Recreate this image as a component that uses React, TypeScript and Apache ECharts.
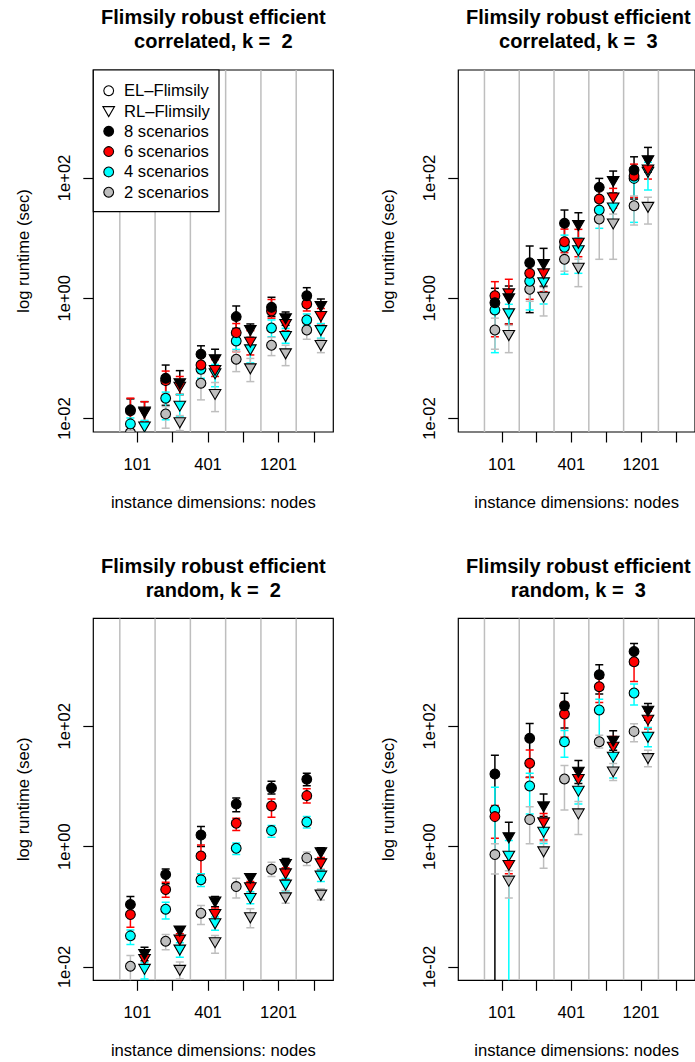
import React, { useEffect, useRef } from 'react';
import * as echarts from 'echarts';

const FONT = '"Liberation Sans", Arial, Helvetica, sans-serif';

// ---- axes / categories ----
const nodeTicks = [1, 2, 3, 4, 5, 6];
const labelledTicks = [1, 3, 5];
const labelledNodes = ['101', '401', '1201'];
const separators = [0.5, 1.5, 2.5, 3.5, 4.5, 5.5];
const yTicks = [-2, 0, 2]; // log10(seconds)
const Y_MIN = -2.223;
const Y_MAX = 3.795;
const X_MIN = -0.252;
const X_MAX = 6.552;
const EL_OFFSET = -0.2;
const RL_OFFSET = 0.2;

// ---- data: per group [mean, lower, upper] of runtime, log10(sec); null lower = below zero ----
// correlated, k = 2
const corrK2_s8_EL = [[-1.855, -2.05, -1.673], [-1.33, -1.78, -1.11], [-0.93, -1.1, -0.79], [-0.305, -0.5, -0.128], [-0.15, -0.3, 0.017], [0.043, -0.1, 0.176]];
const corrK2_s8_RL = [[-1.883, -2.05, -1.718], [-1.412, -1.6, -1.203], [-1.013, -1.2, -0.847], [-0.527, -0.65, -0.427], [-0.332, -0.45, -0.228], [-0.128, -0.25, -0.012]];
const corrK2_s6_EL = [[-1.87, -2.05, -1.66], [-1.369, -1.6, -1.21], [-1.108, -1.22, -0.95], [-0.571, -0.887, -0.42], [-0.211, -0.33, -0.02], [-0.095, -0.211, 0.03]];
const corrK2_s6_RL = [[-1.9, -2.05, -1.72], [-1.468, -1.6, -1.3], [-1.191, -1.3, -1.02], [-0.721, -0.942, -0.538], [-0.427, -0.538, -0.3], [-0.294, -0.427, -0.17]];
const corrK2_s4_EL = [[-2.088, -2.2, -1.99], [-1.661, -2.02, -1.56], [-1.18, -1.33, -1.05], [-0.709, -0.85, -0.58], [-0.493, -0.64, -0.36], [-0.36, -0.45, -0.261]];
const corrK2_s4_RL = [[-2.13, -2.3, -2.03], [-1.784, -1.97, -1.6], [-1.246, -1.47, -1.1], [-0.847, -1.075, -0.7], [-0.626, -0.748, -0.5], [-0.527, -0.664, -0.42]];
const corrK2_s2_EL = [[-2.23, -2.4, -2.1], [-1.922, -2.16, -1.8], [-1.412, -1.689, -1.25], [-1.013, -1.219, -0.88], [-0.781, -0.953, -0.65], [-0.527, -0.681, -0.42]];
const corrK2_s2_RL = [[-2.4, -2.6, -2.25], [-2.06, -2.2, -1.95], [-1.59, -1.884, -1.4], [-1.163, -1.385, -1.0], [-0.914, -1.12, -0.78], [-0.776, -0.904, -0.68]];

// correlated, k = 3
const corrK3_s8_EL = [[-0.073, -0.55, 0.166], [0.591, -0.239, 0.869], [1.246, 0.8, 1.467], [1.844, 1.6, 1.993], [2.131, 1.65, 2.352]];
const corrK3_s8_RL = [[0.0, -0.427, 0.204], [0.57, 0.2, 0.83], [1.218, 0.95, 1.422], [1.949, 1.75, 2.115], [2.297, 2.1, 2.508]];
const corrK3_s6_EL = [[0.043, -0.64, 0.276], [0.415, -0.017, 0.62], [0.94, 0.758, 1.15], [1.65, 1.45, 1.8], [2.032, 1.678, 2.23]];
const corrK3_s6_RL = [[0.083, -0.43, 0.316], [0.415, 0.11, 0.6], [0.924, 0.691, 1.146], [1.678, 1.5, 1.827], [2.143, 1.982, 2.3]];
const corrK3_s4_EL = [[-0.194, -0.904, -0.05], [0.282, -0.194, 0.45], [0.85, 0.4, 1.05], [1.467, 1.163, 1.62], [1.993, 1.262, 2.17]];
const corrK3_s4_RL = [[-0.249, -0.6, -0.1], [0.266, -0.095, 0.42], [0.8, 0.415, 1.0], [1.512, 1.3, 1.7], [2.103, 1.8, 2.26]];
const corrK3_s2_EL = [[-0.527, -0.847, -0.33], [0.15, -0.05, 0.3], [0.648, 0.45, 0.78], [1.317, 0.648, 1.45], [1.538, 1.218, 1.7]];
const corrK3_s2_RL = [[-0.61, -0.904, -0.45], [0.027, -0.294, 0.18], [0.508, 0.193, 0.65], [1.246, 0.648, 1.4], [1.522, 1.234, 1.68]];

// random, k = 2
const randK2_s8_EL = [[-0.963, -1.1, -0.831], [-0.465, -0.62, -0.371], [0.194, 0.0, 0.332], [0.709, 0.581, 0.809], [0.975, 0.875, 1.085], [1.118, 1.013, 1.218]];
const randK2_s8_RL = [[-1.783, -1.9, -1.672], [-1.395, -1.5, -1.35], [-0.914, -1.0, -0.831], [-0.521, -0.6, -0.45], [-0.288, -0.38, -0.2], [-0.094, -0.2, -0.02]];
const randK2_s6_EL = [[-1.13, -1.34, -1.0], [-0.714, -0.842, -0.593], [-0.155, -0.454, 0.028], [0.388, 0.266, 0.47], [0.676, 0.487, 0.79], [0.847, 0.726, 0.96]];
const randK2_s6_RL = [[-1.866, -2.0, -1.75], [-1.545, -1.65, -1.45], [-1.118, -1.22, -1.02], [-0.675, -0.78, -0.58], [-0.443, -0.55, -0.35], [-0.277, -0.38, -0.18]];
const randK2_s4_EL = [[-1.484, -1.628, -1.385], [-1.041, -1.202, -0.925], [-0.553, -0.664, -0.45], [-0.028, -0.133, 0.06], [0.266, 0.155, 0.35], [0.41, 0.31, 0.5]];
const randK2_s4_RL = [[-2.032, -2.2, -1.93], [-1.711, -1.838, -1.6], [-1.274, -1.39, -1.17], [-0.853, -0.95, -0.75], [-0.631, -0.74, -0.53], [-0.482, -0.58, -0.39]];
const randK2_s2_EL = [[-1.988, -2.4, -1.811], [-1.573, -1.716, -1.46], [-1.107, -1.296, -0.98], [-0.664, -0.853, -0.526], [-0.377, -0.498, -0.26], [-0.188, -0.316, -0.09]];
const randK2_s2_RL = [[-2.4, -2.6, -2.25], [-2.048, -2.2, -1.92], [-1.589, -1.772, -1.48], [-1.174, -1.351, -1.035], [-0.842, -0.942, -0.73], [-0.797, -0.886, -0.7]];

// random, k = 3
const randK3_s8_EL = [[1.207, null, 1.517], [1.8, 1.152, 2.048], [2.342, 1.972, 2.547], [2.857, 2.537, 3.023], [3.244, 3.1, 3.377]];
const randK3_s8_RL = [[0.155, -0.1, 0.404], [0.67, 0.5, 0.875], [1.246, 1.05, 1.429], [1.761, 1.6, 1.927], [2.259, 2.1, 2.38]];
const randK3_s6_EL = [[0.498, 0.138, 0.681], [1.384, 1.15, 1.606], [2.204, 1.816, 2.4], [2.658, 2.397, 2.8], [3.073, 2.746, 3.2]];
const randK3_s6_RL = [[-0.305, -0.45, -0.15], [0.404, 0.111, 0.55], [1.124, 0.95, 1.25], [1.661, 1.5, 1.83], [2.11, 1.955, 2.25]];
const randK3_s4_EL = [[0.609, -0.1, 0.985], [1.008, 0.543, 1.218], [1.744, 1.484, 1.93], [2.271, 1.789, 2.45], [2.553, 2.354, 2.703]];
const randK3_s4_RL = [[-0.15, null, 0.1], [0.249, 0.05, 0.42], [0.93, 0.709, 1.1], [1.495, 1.141, 1.65], [1.827, 1.661, 1.98]];
const randK3_s2_EL = [[-0.133, -0.454, 0.045], [0.449, 0.045, 0.664], [1.124, 0.609, 1.346], [1.744, 1.64, 1.85], [1.915, 1.744, 2.04]];
const randK3_s2_RL = [[-0.565, -0.853, -0.4], [-0.078, -0.36, 0.08], [0.553, 0.199, 0.75], [1.251, 1.1, 1.38], [1.473, 1.329, 1.6]];

const scenarioNames = ['8 scenarios', '6 scenarios', '4 scenarios', '2 scenarios'];
const scenarioFill = ['#000000', '#FF0000', '#00FFFF', '#BEBEBE'];
const methodNames = ['EL\u2013Flimsily', 'RL\u2013Flimsily'];

const panels = [
  { title: 'Flimsily robust efficient\ncorrelated, k =  2', left: 93.3, top: 70, legend: true,
    data: [[corrK2_s8_EL, corrK2_s8_RL], [corrK2_s6_EL, corrK2_s6_RL], [corrK2_s4_EL, corrK2_s4_RL], [corrK2_s2_EL, corrK2_s2_RL]] },
  { title: 'Flimsily robust efficient\ncorrelated, k =  3', left: 458.3, top: 70, legend: false,
    data: [[corrK3_s8_EL, corrK3_s8_RL], [corrK3_s6_EL, corrK3_s6_RL], [corrK3_s4_EL, corrK3_s4_RL], [corrK3_s2_EL, corrK3_s2_RL]] },
  { title: 'Flimsily robust efficient\nrandom, k =  2', left: 93.3, top: 618.3, legend: false,
    data: [[randK2_s8_EL, randK2_s8_RL], [randK2_s6_EL, randK2_s6_RL], [randK2_s4_EL, randK2_s4_RL], [randK2_s2_EL, randK2_s2_RL]] },
  { title: 'Flimsily robust efficient\nrandom, k =  3', left: 458.3, top: 618.3, legend: false,
    data: [[randK3_s8_EL, randK3_s8_RL], [randK3_s6_EL, randK3_s6_RL], [randK3_s4_EL, randK3_s4_RL], [randK3_s2_EL, randK3_s2_RL]] },
];

const PANEL_W = 240;
const PANEL_H = 362;
const FS = 16.6;

const fmtExp = (v: number) => '1e' + (v < 0 ? '-' : '+') + String(Math.abs(v)).padStart(2, '0');

const renderSeparator = (params: any, api: any) => {
  const x = api.value(0);
  const a = api.coord([x, Y_MIN]);
  const b = api.coord([x, Y_MAX]);
  return { type: 'line', shape: { x1: a[0], y1: a[1], x2: b[0], y2: b[1] }, style: { stroke: '#BEBEBE', lineWidth: 1.5 } };
};

const makeBarRenderer = (color: string) => (params: any, api: any) => {
  const x = api.value(0);
  const lo = api.coord([x, api.value(2)]);
  const hi = api.coord([x, api.value(3)]);
  const cap = 4;
  const st = { stroke: color, lineWidth: 1.5 };
  return {
    type: 'group',
    children: [
      { type: 'line', shape: { x1: lo[0], y1: lo[1], x2: hi[0], y2: hi[1] }, style: st },
      { type: 'line', shape: { x1: hi[0] - cap, y1: hi[1], x2: hi[0] + cap, y2: hi[1] }, style: st },
      { type: 'line', shape: { x1: lo[0] - cap, y1: lo[1], x2: lo[0] + cap, y2: lo[1] }, style: st },
    ],
  };
};

const makePointRenderer = (fill: string) => (params: any, api: any) => {
  const p = api.coord([api.value(0), api.value(1)]);
  const kind = api.value(2);
  const style = { fill, stroke: '#000000', lineWidth: 1.1 };
  if (kind === 0) {
    return { type: 'circle', shape: { cx: p[0], cy: p[1], r: 4.9 }, style };
  }
  return {
    type: 'polygon',
    shape: { points: [[p[0] - 5.8, p[1] - 4.4], [p[0] + 5.8, p[1] - 4.4], [p[0], p[1] + 5.6]] },
    style,
  };
};

function buildOption() {
  const grid: any[] = [];
  const xAxis: any[] = [];
  const yAxis: any[] = [];
  const series: any[] = [];
  const title: any[] = [];
  const axisText = { fontSize: FS, color: '#000000', fontFamily: FONT };

  panels.forEach((p, i) => {
    grid.push({ left: p.left, top: p.top, width: PANEL_W, height: PANEL_H, show: true, borderColor: '#000000', borderWidth: 1.2, backgroundColor: 'transparent' });
    title.push({
      text: p.title, left: p.left + PANEL_W / 2, top: p.top - 64.6, textAlign: 'center', padding: 0,
      textStyle: { fontSize: 20, fontWeight: 'bold', lineHeight: 24, color: '#000000', fontFamily: FONT },
    });
    xAxis.push({
      gridIndex: i, type: 'value', min: X_MIN, max: X_MAX, position: 'bottom',
      axisLine: { show: false, onZero: false }, splitLine: { show: false },
      axisTick: { show: true, length: 10.5, customValues: nodeTicks, lineStyle: { color: '#000000', width: 1.2 } },
      axisLabel: {
        show: true, customValues: labelledTicks, margin: 23.5, ...axisText,
        formatter: (v: number) => { const k = labelledTicks.indexOf(Math.round(v)); return k >= 0 ? labelledNodes[k] : ''; },
      },
      name: 'instance dimensions: nodes', nameLocation: 'middle', nameGap: 62, nameTextStyle: axisText,
    });
    yAxis.push({
      gridIndex: i, type: 'value', min: Y_MIN, max: Y_MAX, position: 'left',
      axisLine: { show: false, onZero: false }, splitLine: { show: false },
      axisTick: { show: true, length: 10, customValues: yTicks, lineStyle: { color: '#000000', width: 1.2 } },
      axisLabel: { show: true, customValues: yTicks, rotate: 90, margin: 20.5, ...axisText, formatter: (v: number) => fmtExp(Math.round(v)) },
      name: 'log runtime (sec)', nameLocation: 'middle', nameGap: 61, nameRotate: 90, nameTextStyle: axisText,
    });

    series.push({
      type: 'custom', xAxisIndex: i, yAxisIndex: i, clip: true, silent: true,
      renderItem: renderSeparator, encode: { x: 0, y: 1 },
      data: separators.map((v) => [v, Y_MIN]),
    });

    // error bars: 8, 6, 4, 2 scenarios
    p.data.forEach((pair, s) => {
      const d: any[] = [];
      pair.forEach((arr, m) => {
        const off = m === 0 ? EL_OFFSET : RL_OFFSET;
        arr.forEach((t: any, g: number) => {
          const lo = t[1] === null ? Y_MIN - 2 : t[1];
          d.push([nodeTicks[g] + off, t[0], lo, t[2]]);
        });
      });
      series.push({
        type: 'custom', name: scenarioNames[s], xAxisIndex: i, yAxisIndex: i, clip: true, silent: true,
        renderItem: makeBarRenderer(scenarioFill[s]), encode: { x: 0, y: 1 }, data: d,
      });
    });

    // points: 2, 4, 6, 8 scenarios (8 on top)
    [3, 2, 1, 0].forEach((s) => {
      const pair = p.data[s];
      const d: any[] = [];
      pair.forEach((arr, m) => {
        const off = m === 0 ? EL_OFFSET : RL_OFFSET;
        arr.forEach((t: any, g: number) => {
          d.push([nodeTicks[g] + off, t[0], m]);
        });
      });
      series.push({
        type: 'custom', name: scenarioNames[s], xAxisIndex: i, yAxisIndex: i, clip: true, silent: true,
        renderItem: makePointRenderer(scenarioFill[s]), encode: { x: 0, y: 1 }, data: d,
      });
    });
  });

  // legend box (top-left panel)
  const lx = panels[0].left;
  const ly = panels[0].top;
  const elements: any[] = [
    { type: 'rect', z: 100, shape: { x: lx, y: ly, width: 125.7, height: 141.7 }, style: { fill: '#FFFFFF', stroke: '#000000', lineWidth: 1.2 } },
  ];
  const legendItems = [
    { label: methodNames[0], kind: 0, fill: 'none' },
    { label: methodNames[1], kind: 1, fill: 'none' },
    ...scenarioNames.map((n, k) => ({ label: n, kind: 0, fill: scenarioFill[k] })),
  ];
  legendItems.forEach((it, r) => {
    const cx = lx + 15.4;
    const cy = ly + 20.7 + r * 20.3;
    const st = { fill: it.fill, stroke: '#000000', lineWidth: 1.1 };
    if (it.kind === 0) {
      elements.push({ type: 'circle', z: 101, shape: { cx, cy, r: 4.9 }, style: st });
    } else {
      elements.push({ type: 'polygon', z: 101, shape: { points: [[cx - 5.8, cy - 4.4], [cx + 5.8, cy - 4.4], [cx, cy + 5.6]] }, style: st });
    }
    elements.push({
      type: 'text', z: 101, x: lx + 30.7, y: cy,
      style: { text: it.label, fill: '#000000', font: `${FS}px ${FONT}`, textAlign: 'left', textVerticalAlign: 'middle', verticalAlign: 'middle' },
    });
  });

  return {
    animation: false,
    backgroundColor: '#FFFFFF',
    textStyle: { fontFamily: FONT },
    title,
    grid,
    xAxis,
    yAxis,
    series,
    graphic: { elements },
  };
}

export default function App() {
  const ref = useRef<HTMLDivElement>(null);
  useEffect(() => {
    if (!ref.current) return;
    const chart = echarts.init(ref.current, undefined, { renderer: 'svg' });
    chart.setOption(buildOption() as any);
    return () => chart.dispose();
  }, []);
  return <div ref={ref} style={{ position: 'absolute', left: 0, top: 0, width: 695, height: 1062 }} />;
}
